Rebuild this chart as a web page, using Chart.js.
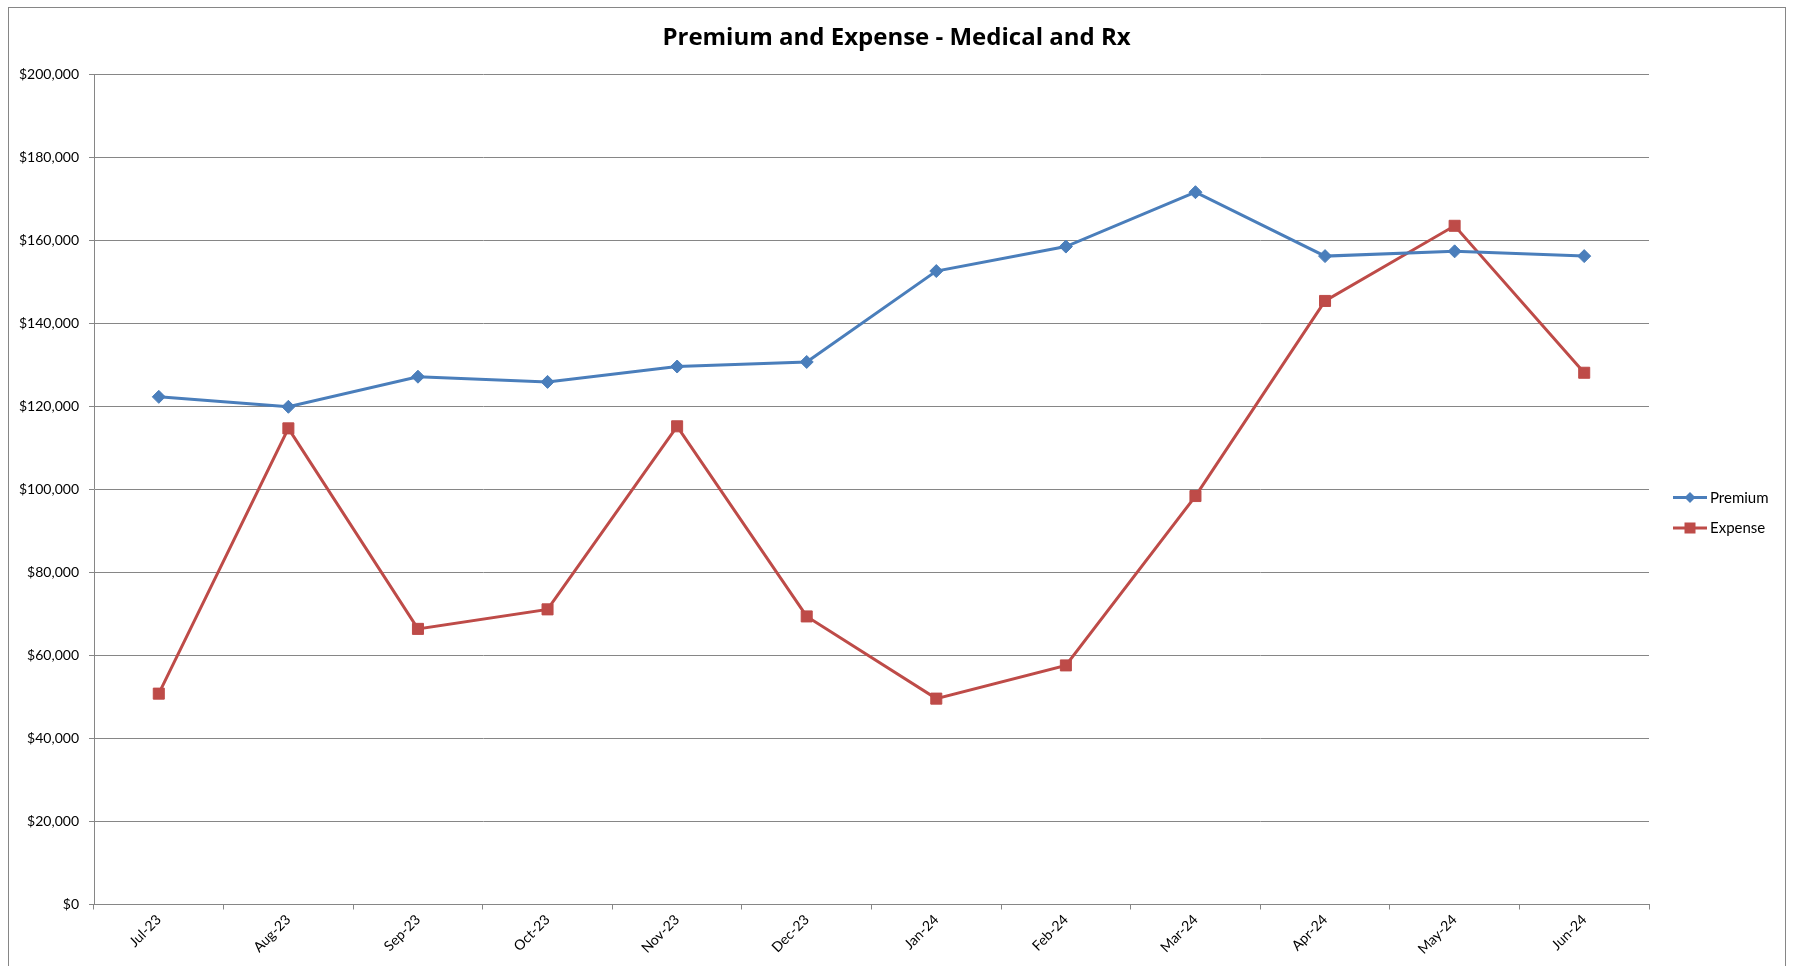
<!DOCTYPE html>
<html>
<head>
<meta charset="utf-8">
<script src="https://cdn.jsdelivr.net/npm/chart.js@4/dist/chart.umd.min.js"></script>
<style>
html,body{margin:0;padding:0;background:#fff;}
#wrap{width:1793px;height:966px;position:relative;overflow:hidden;}
canvas{display:block;}
</style>
</head>
<body>
<div id="wrap"><canvas id="c" width="1793" height="966"></canvas></div>
<script>
const categories = ['Jul-23','Aug-23','Sep-23','Oct-23','Nov-23','Dec-23','Jan-24','Feb-24','Mar-24','Apr-24','May-24','Jun-24'];
const premium = [122300, 119900, 127150, 125900, 129600, 130700, 152600, 158500, 171600, 156200, 157350, 156200];
const expense = [50800, 114700, 66400, 71100, 115200, 69400, 49600, 57600, 98400, 145400, 163500, 128100];
const yTicks = [0, 20000, 40000, 60000, 80000, 100000, 120000, 140000, 160000, 180000, 200000];
const seriesNames = ['Premium', 'Expense'];
const titleText = 'Premium and Expense - Medical and Rx';

const BLUE = '#4A7EBB';
const RED = '#BE4B48';
const GRID = '#868686';
const FONT = 'Lato, Carlito, "Open Sans", sans-serif';
const TITLE_FONT = '"Open Sans", Lato, sans-serif';

function fmtMoney(v){ return '$' + Number(v).toLocaleString('en-US'); }

const framePlugin = {
  id: 'frame',
  beforeDraw(chart){
    const ctx = chart.ctx;
    ctx.save();
    ctx.fillStyle = '#fff';
    ctx.fillRect(0,0,chart.width,chart.height);
    ctx.restore();
  },
  afterDraw(chart){
    const ctx = chart.ctx;
    ctx.save();
    ctx.strokeStyle = GRID;
    ctx.lineWidth = 1;
    ctx.strokeRect(8.5, 7.5, 1777, 980);
    // legend
    const ds = chart.data.datasets;
    ds.forEach((d, i) => {
      const y = 497.5 + i * 30.5;
      ctx.strokeStyle = d.borderColor;
      ctx.lineWidth = 3;
      ctx.beginPath();
      ctx.moveTo(1673, y);
      ctx.lineTo(1707, y);
      ctx.stroke();
      ctx.fillStyle = d.borderColor;
      const cx = 1690;
      if (d.pointStyle === 'rectRot') {
        const r = 5.5;
        ctx.beginPath();
        ctx.moveTo(cx, y - r); ctx.lineTo(cx + r, y); ctx.lineTo(cx, y + r); ctx.lineTo(cx - r, y); ctx.closePath();
        ctx.fill();
      } else {
        ctx.fillRect(cx - 5.5, y - 5.5, 11, 11);
      }
      ctx.fillStyle = '#000';
      ctx.font = '15px ' + FONT;
      ctx.textAlign = 'left';
      ctx.textBaseline = 'middle';
      ctx.fillText(d.label, 1710, y + 0.5);
    });
    ctx.restore();
  }
};

new Chart(document.getElementById('c'), {
  type: 'line',
  data: {
    labels: categories,
    datasets: [
      {
        label: seriesNames[0], data: premium,
        borderColor: BLUE, backgroundColor: BLUE, borderWidth: 3,
        pointStyle: 'rectRot', pointRadius: 6.5, pointHoverRadius: 6.5,
        pointBackgroundColor: BLUE, pointBorderColor: BLUE, pointBorderWidth: 1,
        tension: 0, fill: false
      },
      {
        label: seriesNames[1], data: expense,
        borderColor: RED, backgroundColor: RED, borderWidth: 3,
        pointStyle: 'rect', pointRadius: 7.8, pointHoverRadius: 7.8,
        pointBackgroundColor: RED, pointBorderColor: RED, pointBorderWidth: 1,
        tension: 0, fill: false
      }
    ]
  },
  options: {
    responsive: false,
    animation: false,
    events: [],
    layout: { padding: { left: 0, right: 0, top: 0, bottom: 0 } },
    plugins: {
      legend: { display: false },
      tooltip: { enabled: false },
      title: {
        display: true, text: titleText, color: '#000', fullSize: true,
        font: { family: TITLE_FONT, size: 24, weight: 'bold', lineHeight: 1.2 },
        padding: { top: 23.8, bottom: 21.7 }
      }
    },
    scales: {
      x: {
        offset: true,
        grid: { display: true, drawOnChartArea: false, drawTicks: true, tickLength: 5, offset: true, color: GRID, lineWidth: 1 },
        border: { display: true, color: GRID, width: 1 },
        ticks: { color: '#000', font: { family: FONT, size: 14 }, maxRotation: 45, minRotation: 45, autoSkip: false, padding: 2 },
        afterFit(scale){ scale.height = 61.5; }
      },
      y: {
        min: 0, max: 200000,
        afterBuildTicks(scale){ scale.ticks = yTicks.map(v => ({ value: v })); },
        grid: { display: true, drawOnChartArea: true, drawTicks: true, tickLength: 5, color: GRID, lineWidth: 1 },
        border: { display: true, color: GRID, width: 1 },
        ticks: { color: '#000', font: { family: FONT, size: 14 }, padding: 10, callback: (v) => fmtMoney(v) },
        afterFit(scale){ scale.width = 94; }
      },
      legendSpace: {
        type: 'linear', position: 'right', display: true,
        grid: { display: false, drawTicks: false },
        border: { display: false },
        ticks: { display: false },
        afterFit(scale){ scale.width = 144; }
      }
    }
  },
  plugins: [framePlugin]
});
</script>
</body>
</html>
